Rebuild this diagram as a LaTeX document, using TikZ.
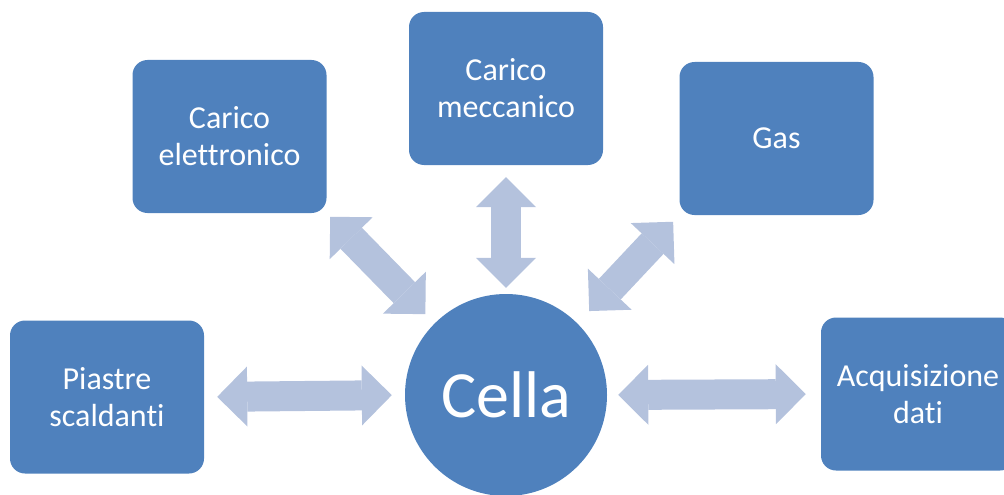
\documentclass[tikz,border=0pt]{standalone}
\usepackage{fontspec}
\setmainfont{Carlito}[Ligatures=NoCommon]
\usetikzlibrary{arrows.meta}
\definecolor{qqblbd}{rgb}{0.31,0.506,0.741}
\definecolor{ltclcd}{rgb}{0.706,0.761,0.867}
\begin{document}
\begin{tikzpicture}[x=1pt,y=-1pt,
  blocco/.style={fill=qqblbd,text=white,rounded corners=15pt,inner sep=0pt,
    minimum width=194pt,minimum height=153pt,align=center,font=\fontsize{32}{37}\selectfont},
  freccia/.style={draw=ltclcd,line width=30pt,
    arrows={Triangle[length=30pt,width=60pt,line width=0pt]-Triangle[length=30pt,width=60pt,line width=0pt]}}]
\useasboundingbox (0,0) rectangle (1004,495);
\clip (0,0) rectangle (1004,495);
\node[blocco] (elettronico) at (229.5,136.5) {Carico\\elettronico};
\node[blocco] (meccanico) at (506,88.5) {Carico\\meccanico};
\node[blocco] (gas) at (776.5,138.5) {Gas};
\node[blocco] (piastre) at (107,397) {Piastre\\scaldanti};
\node[blocco] (acquisizione) at (918,394) {Acquisizione\\dati};
\node[circle,fill=qqblbd,text=white,inner sep=0pt,minimum size=202pt,font=\fontsize{66}{70}\selectfont] (cella) at (506,395) {Cella};
\draw[freccia,shorten <=13pt,shorten >=13pt] (piastre.east) -- (cella.west);
\draw[freccia,shorten <=12pt,shorten >=6pt] (meccanico.south) -- (cella.north);
\draw[freccia,shorten <=5pt,shorten >=13pt] (elettronico.south east) -- (cella.north west);
\draw[freccia,shorten <=9pt,shorten >=17pt] (gas.south west) -- (cella.north east);
\draw[freccia,shorten <=11pt,shorten >=15pt] (cella.east) -- (acquisizione.west);
\end{tikzpicture}
\end{document}
